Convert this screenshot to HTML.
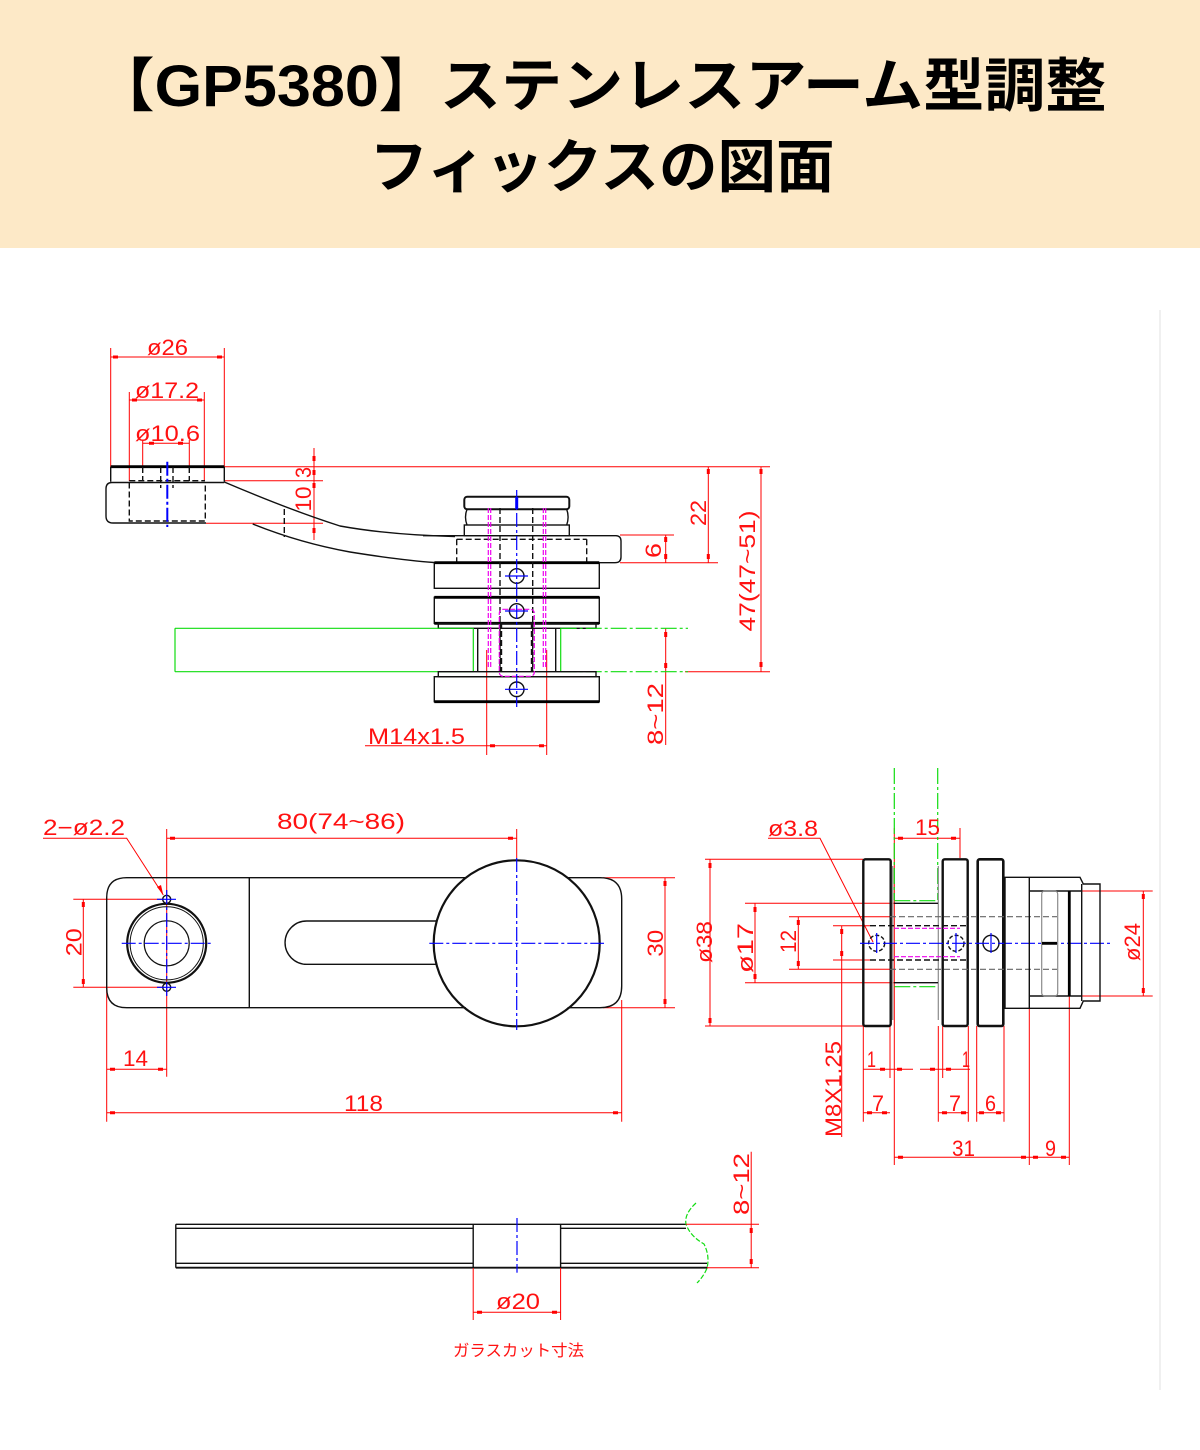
<!DOCTYPE html>
<html><head><meta charset="utf-8">
<style>
html,body{margin:0;padding:0;background:#fff;}
body{width:1200px;height:1450px;overflow:hidden;}
svg{display:block}
.k{stroke:#111;fill:none;stroke-width:1.4}
.kt{stroke:#000;fill:none;stroke-width:2.8}
.kd{stroke:#111;fill:none;stroke-width:1.4;stroke-dasharray:6 3}
.gy{stroke:#8a8a8a;fill:none;stroke-width:1.2}
.gd{stroke:#666;fill:none;stroke-width:1.2;stroke-dasharray:6 3}
.r{stroke:#f00;fill:none;stroke-width:1}
.tk{stroke:#f00;fill:none;stroke-width:3}
.b{stroke:#00f;fill:none;stroke-width:1.2;stroke-dasharray:14 3 3 3}
.bs{stroke:#00f;fill:none;stroke-width:1.2}
.g{stroke:#1d1;fill:none;stroke-width:1.2;stroke-dasharray:16 3 3 3}
.gs{stroke:#1d1;fill:none;stroke-width:1.2}
.m{stroke:#e0e;fill:none;stroke-width:1.2;stroke-dasharray:5 2}
.t{fill:#f11;font-family:"Liberation Sans",sans-serif;font-size:22px}
.ti{fill:#000;font-family:"Liberation Sans","Noto Sans CJK JP",sans-serif;font-size:58px;font-weight:700}
</style></head><body>
<svg width="1200" height="1450" viewBox="0 0 1200 1450" xmlns="http://www.w3.org/2000/svg">
<rect x="0" y="0" width="1200" height="1450" fill="#fff"/>
<rect x="0" y="0" width="1200" height="248" fill="#fde9c7"/>
<text class="ti" x="600" y="106" text-anchor="middle" textLength="1013" lengthAdjust="spacingAndGlyphs">【GP5380】ステンレスアーム型調整</text>
<text class="ti" x="602" y="187" text-anchor="middle" textLength="465" lengthAdjust="spacingAndGlyphs">フィックスの図面</text>

<line x1="1160" y1="310" x2="1160" y2="1390" stroke="#f0f0f0" stroke-width="2"/>

<!-- ===== TOP SIDE VIEW ===== -->
<path class="r" d="M110.7 348V467 M224.3 348V467 M110.7 357H224.3
M129.3 392V481 M204.3 392V481 M129.3 400H204.3
M142.7 440V467 M189.3 440V467 M142.7 443.3H189.3
M224.3 466.7H770 M224.3 480.7H323 M206 523.3H323 M314 448V540
M620 535H674 M620 562.7H718 M665.7 535V562.7 M708.3 466.7V562.7 M761 466.7V671.7
M685 671.7H770 M665.7 628.3V745
M486.7 650V755 M546.7 650V755 M365 745.7H546.7"/>

<path class="kt" d="M110.7 466.7H224.3"/>
<path class="k" d="M110.7 466.7V481.7 M224.3 466.7V481.7"/>
<path class="kd" d="M129.3 480.7H205 M160.7 467V488 M173 467V488 M142.7 467V481 M189.3 467V481"/>
<path class="k" d="M224.3 482.5H112 Q106 482.5 106 489V516 Q106 523 113 523H206"/>
<path class="kd" d="M129.3 482.5V521H205.3V482.5"/>
<path class="b" style="stroke-width:2" d="M167.3 461.7V527"/>
<path class="k" d="M224.3 482 Q290 510 340 526 Q390 535 455 536.5 M252.7 524 Q300 543 350 552 Q400 560 434 562.5"/>
<path class="kd" d="M284.3 509V537"/>

<path class="k" d="M423 535.7H616 Q621 536 621 541V557 Q621 562.7 615 562.7H599"/>
<path class="kd" d="M456.7 539.3H586.7 M456.7 539.3V562.7 M586.7 539.3V562.7"/>
<rect class="k" style="stroke-width:2" x="464.3" y="496.7" width="105" height="12.6" rx="3"/>
<path class="k" d="M467 509.3 Q464 517 467 525 M566.7 509.3 Q569.5 517 566.7 525"/>
<rect class="k" x="464.3" y="525" width="105" height="10.7"/>
<path class="bs" style="stroke-width:3" d="M516.7 497V509"/>

<rect class="k" x="434.3" y="562.7" width="165" height="25.6"/>
<path class="kt" d="M434.3 562.7H599.3"/>
<rect class="k" x="434.3" y="597.3" width="165" height="26"/>
<path class="kt" d="M434.3 597.3H599.3 M434.3 623.3H599.3"/>
<rect class="k" x="438.3" y="623.3" width="157.7" height="5"/>
<path class="k" d="M477.7 628.3V671.7 M555.7 628.3V671.7"/>
<path class="gs" d="M473.3 628.3V671.7 M560.7 628.3V671.7 M175 628.3V671.7 M175 628.3H473.3 M175 671.7H473.3"/>
<path class="g" d="M560.7 628.3H688 M560.7 671.7H688"/>
<rect class="k" x="438.3" y="671.7" width="157.7" height="5"/>
<rect class="k" x="434.3" y="676.7" width="165" height="25"/>
<path class="kt" d="M434.3 701.7H599.3"/>

<path class="m" d="M488.3 508V668 M490.7 508V668 M543.3 508V668 M545.7 508V668"/>
<path class="kd" d="M500 508V672 M532.7 508V672"/>
<rect class="m" x="499.3" y="609.3" width="35" height="67" rx="4"/>
<path class="kd" style="stroke-width:2.4" d="M501 622V672 M532 622V672"/>
<circle class="k" cx="516.7" cy="576" r="7.3"/>
<circle class="k" cx="516.7" cy="611" r="7.3"/>
<circle class="k" cx="516.7" cy="689.3" r="7.3"/>
<path class="bs" d="M505 576H528 M505 611H528 M505 689.3H528"/>
<path class="b" d="M516.7 490V707"/>

<!-- ===== BOTTOM-LEFT TOP VIEW ===== -->
<path class="r" d="M43 838.3H126.7 L163.3 895
M166.7 838.3H516.7 M166.7 829V1076.7 M516.7 829V858
M73.3 899.3H163 M73.3 987.3H163 M83.3 899.3V987.3
M106.7 988V1121.7 M106.7 1069.3H166.7
M621.7 1000V1121.7 M106.7 1112.7H621.7
M603 877.7H675 M603 1007.7H675 M665 877.7V1007.7"/>
<path d="M163.3 895 L157 887 L161 885 Z" fill="#f00"/>
<path class="k" d="M465.8 877.7H126.7 Q106.7 877.7 106.7 897.7V987.7 Q106.7 1007.7 126.7 1007.7H465.8 M567.6 877.7H600 Q621.7 877.7 621.7 899V986 Q621.7 1007.7 600 1007.7H567.6 M249.3 877.7V1007.7"/>
<path class="k" d="M436.7 921H306.7 A21.65 21.65 0 0 0 306.7 964.3H436.7"/>
<circle class="k" style="stroke-width:2.2" cx="516.7" cy="943.3" r="83"/>
<circle class="k" style="stroke-width:2.2" cx="166.7" cy="943.3" r="39.5"/>
<circle class="k" style="stroke-width:1" cx="166.7" cy="943.3" r="36.6"/>
<circle class="k" style="stroke-width:1.2" cx="166.7" cy="943.3" r="22.5"/>
<circle class="k" cx="166.7" cy="899.3" r="4"/>
<circle class="k" cx="166.7" cy="987.3" r="4"/>
<path class="b" d="M121.7 943.3H211 M166.7 890V997 M429.3 943.3H604 M516.7 858V1030"/>
<path class="bs" d="M157 899.3H176 M157 987.3H176"/>

<!-- ===== RIGHT FRONT VIEW ===== -->
<path class="r" d="M894.3 828V1165 M960 828V858 M894.3 838.3H960
M768 838.3H820 L873 942
M705 859.3H863 M705 1026H863 M710 859.3V1026
M745 903.3H894 M745 982.7H894 M755 903.3V982.7
M789 916.7H894 M789 969.3H894 M798.3 916.7V969.3
M833 925.7H870 M833 960H870 M841.7 925.7V1137
M1057 891H1152.7 M1057 996H1152.7 M1143.3 891V996
M863.3 1026V1121.7 M890 1026V1078 M938.3 1026V1121.7 M942.7 1026V1078 M968.3 1026V1121.7 M976.7 1026V1121.7 M1004 1026V1121.7 M1029.3 1008V1165 M1069.3 996V1165
M863.3 1069.3H913 M920 1069.3H970 M863.3 1112.7H890 M938.3 1112.7H968.3 M976.7 1112.7H1004 M894.3 1157.3H1069.3"/>
<path class="g" d="M894.3 768V900 M937.7 768V900 M894.3 900.7H937.7 M894.3 986.7H937.7"/>
<rect class="k" style="stroke-width:2.4" x="863.3" y="859.3" width="27.4" height="166.7" rx="2"/>
<path class="gy" d="M892.7 866V1020 M938.3 866V1020"/>
<rect class="k" style="stroke-width:2.4" x="942.7" y="859.3" width="25" height="166.7" rx="2"/>
<rect class="k" style="stroke-width:2.6" x="977.7" y="859.3" width="25.6" height="166.7" rx="2"/>
<path class="k" d="M894 903.3H938 M894 982.7H938"/>
<path class="gd" d="M890 916.7H1057 M890 969.3H1057"/>
<path class="kd" d="M870 925.7H968 M870 960H968"/>
<path class="m" d="M894 928.3H960 M894 956.7H960"/>
<circle class="kd" style="stroke-dasharray:4 2" cx="876.7" cy="943.3" r="8"/>
<circle class="kd" style="stroke-dasharray:4 2" cx="956" cy="943.3" r="8"/>
<circle class="k" cx="991" cy="943.3" r="8"/>
<path class="b" d="M860 943.3H1110"/>
<path class="bs" d="M876.7 933V953 M956 933V953 M991 933V953"/>
<path class="k" d="M1005 877.3H1080L1083.3 884H1100V1001H1083.3L1080 1008.3H1005Z M1029.3 877.3V1008.3 M1029.3 891H1081.7 M1029.3 996H1081.7 M1081.7 884V1001"/>
<rect class="gy" x="1041.7" y="891" width="16" height="105" rx="3"/>
<path class="kt" d="M1069.3 891V996 M1042 943.3H1057"/>

<!-- ===== BOTTOM SECTION ===== -->
<path class="k" d="M175.8 1224.3H686 M175.8 1228.3H473.2 M560.6 1228.3H686 M175.8 1263.3H473.2 M560.6 1263.3H707 M175.8 1224.3V1267.7 M473.2 1224.3V1267.7 M560.6 1224.3V1267.7"/>
<path class="k" style="stroke-width:1.8" d="M175.8 1267.7H707.6"/>
<path class="b" d="M517 1218V1272.7"/>
<path class="gs" style="stroke-dasharray:5 2" d="M696 1203 Q684 1214 686 1224 Q690 1236 704 1244 Q710 1256 707 1268 Q704 1276 697 1283"/>
<path class="r" d="M686 1224.3H759 M707 1267.7H759 M751.2 1151.7V1267.7 M473.2 1268V1320 M560.6 1268V1320 M473.2 1312.3H560.6"/>

<!-- ticks -->
<path class="tk" d="M113 357h5 M217 357h5 M132 400h5 M197 400h5 M149 443.3h5 M178 443.3h5
M490 745.7h5 M539 745.7h5 M170 838.3h5 M508 838.3h5 M110 1069.3h5 M158 1069.3h5
M110 1112.7h5 M613 1112.7h5 M898 838.3h5 M951 838.3h5
M880 1069.3h5 M897 1069.3h5 M930 1069.3h5 M946 1069.3h5
M867 1112.7h5 M882 1112.7h5 M942 1112.7h5 M961 1112.7h5 M979 1112.7h5 M996 1112.7h5
M898 1157.3h5 M1021 1157.3h5 M1033 1157.3h5 M1061 1157.3h5 M477 1312.3h5 M552 1312.3h5
M314 456v5 M314 470v5 M314 483v5 M314 528v5
M665.7 537v5 M665.7 554v5 M708.3 469v5 M708.3 554v5 M761 469v5 M761 662v5
M665.7 632v5 M665.7 663v5 M83.3 902v5 M83.3 979v5 M665 881v5 M665 999v5
M710 863v5 M710 1018v5 M755 907v5 M755 974v5 M798.3 920v5 M798.3 961v5
M841.7 929v5 M841.7 951v5 M1143.3 894v5 M1143.3 988v5 M751.2 1228v5 M751.2 1259v5"/>

<!-- horizontal labels -->
<text class="t" x="147" y="355" textLength="41" lengthAdjust="spacingAndGlyphs">ø26</text>
<text class="t" x="135" y="398" textLength="64" lengthAdjust="spacingAndGlyphs">ø17.2</text>
<text class="t" x="135" y="441" textLength="65" lengthAdjust="spacingAndGlyphs">ø10.6</text>
<text class="t" x="368" y="744" textLength="97" lengthAdjust="spacingAndGlyphs">M14x1.5</text>
<text class="t" x="43" y="835" textLength="82" lengthAdjust="spacingAndGlyphs">2−ø2.2</text>
<text class="t" x="277" y="829" textLength="128" lengthAdjust="spacingAndGlyphs">80(74~86)</text>
<text class="t" x="123" y="1066" textLength="25" lengthAdjust="spacingAndGlyphs">14</text>
<text class="t" x="344" y="1111" textLength="39" lengthAdjust="spacingAndGlyphs">118</text>
<text class="t" x="768" y="836" textLength="50" lengthAdjust="spacingAndGlyphs">ø3.8</text>
<text class="t" x="915" y="835" textLength="25" lengthAdjust="spacingAndGlyphs">15</text>
<text class="t" x="867" y="1067" textLength="9" lengthAdjust="spacingAndGlyphs">1</text>
<text class="t" x="962" y="1067" textLength="8" lengthAdjust="spacingAndGlyphs">1</text>
<text class="t" x="872" y="1111" textLength="12" lengthAdjust="spacingAndGlyphs">7</text>
<text class="t" x="949" y="1111" textLength="12" lengthAdjust="spacingAndGlyphs">7</text>
<text class="t" x="985" y="1111" textLength="11" lengthAdjust="spacingAndGlyphs">6</text>
<text class="t" x="952" y="1156" textLength="23" lengthAdjust="spacingAndGlyphs">31</text>
<text class="t" x="1045" y="1156" textLength="11" lengthAdjust="spacingAndGlyphs">9</text>
<text class="t" x="496" y="1309" textLength="44" lengthAdjust="spacingAndGlyphs">ø20</text>
<text x="453" y="1356" textLength="131" lengthAdjust="spacingAndGlyphs" style="fill:#f11;font-family:'Liberation Sans','Noto Sans CJK JP',sans-serif;font-size:16px">ガラスカット寸法</text>

<!-- rotated labels -->
<text class="t" text-anchor="middle" transform="translate(311 472.5) rotate(-90)" textLength="11" lengthAdjust="spacingAndGlyphs">3</text>
<text class="t" text-anchor="middle" transform="translate(311 499) rotate(-90)" textLength="25" lengthAdjust="spacingAndGlyphs">10</text>
<text class="t" text-anchor="middle" transform="translate(706 513) rotate(-90)" textLength="26" lengthAdjust="spacingAndGlyphs">22</text>
<text class="t" text-anchor="middle" transform="translate(661 550.5) rotate(-90)" textLength="15" lengthAdjust="spacingAndGlyphs">6</text>
<text class="t" text-anchor="middle" transform="translate(755 571) rotate(-90)" textLength="121" lengthAdjust="spacingAndGlyphs">47(47~51)</text>
<text class="t" text-anchor="middle" transform="translate(663 714) rotate(-90)" textLength="62" lengthAdjust="spacingAndGlyphs">8~12</text>
<text class="t" text-anchor="middle" transform="translate(81.7 942.3) rotate(-90)" textLength="28" lengthAdjust="spacingAndGlyphs">20</text>
<text class="t" text-anchor="middle" transform="translate(663 943.3) rotate(-90)" textLength="27" lengthAdjust="spacingAndGlyphs">30</text>
<text class="t" text-anchor="middle" transform="translate(712 942) rotate(-90)" textLength="42" lengthAdjust="spacingAndGlyphs">ø38</text>
<text class="t" text-anchor="middle" transform="translate(753 948) rotate(-90)" textLength="50" lengthAdjust="spacingAndGlyphs">ø17</text>
<text class="t" text-anchor="middle" transform="translate(796 941.5) rotate(-90)" textLength="23" lengthAdjust="spacingAndGlyphs">12</text>
<text class="t" text-anchor="middle" transform="translate(841 1089) rotate(-90)" textLength="96" lengthAdjust="spacingAndGlyphs">M8X1.25</text>
<text class="t" text-anchor="middle" transform="translate(1140 942) rotate(-90)" textLength="38" lengthAdjust="spacingAndGlyphs">ø24</text>
<text class="t" text-anchor="middle" transform="translate(749 1184) rotate(-90)" textLength="62" lengthAdjust="spacingAndGlyphs">8~12</text>
</svg>
</body></html>
